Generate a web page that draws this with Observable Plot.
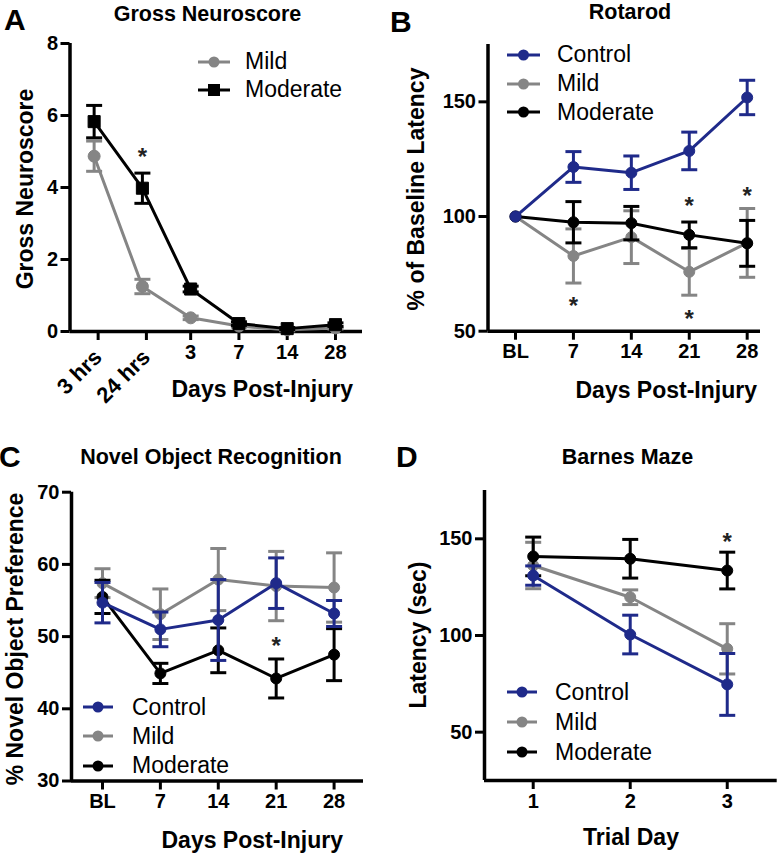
<!DOCTYPE html>
<html>
<head>
<meta charset="utf-8">
<script src="https://cdn.jsdelivr.net/npm/d3@7"></script>
<script src="https://cdn.jsdelivr.net/npm/@observablehq/plot@0.6"></script>
<style>
  body { margin: 0; background: #fff; }
  #root { position: relative; width: 781px; height: 859px; overflow: hidden; background: #fff;
          font-family: "Liberation Sans", Arial, Helvetica, sans-serif; color: #000; }
  .panel { position: absolute; }
  .t { position: absolute; line-height: 1; white-space: nowrap; }
  .b { font-weight: bold; }
</style>
</head>
<body>
<div id="root"></div>
<script>
// ---------- Data ----------
// Panel A: Gross Neuroscore
const aLabels = ["3 hrs", "24 hrs", "3", "7", "14", "28"];
const aMild = [4.87, 1.25, 0.38, 0.15, 0.05, 0.10];
const aMildErr = [0.42, 0.20, 0.05, 0.03, 0.03, 0.03];
const aModerate = [5.83, 3.98, 1.18, 0.22, 0.08, 0.19];
const aModerateErr = [0.45, 0.42, 0.08, 0.05, 0.03, 0.05];
const aStars = [{x: 1, y: 5.0}];

// Panel B: Rotarod
const bLabels = ["BL", "7", "14", "21", "28"];
const bControl = [100, 121.6, 119.1, 128.6, 151.9];
const bControlErr = [0, 6.7, 7.3, 8.2, 7.5];
const bMild = [100, 82.8, 91.0, 75.9, 88.5];
const bMildErr = [0, 11.8, 11.5, 10.2, 15.0];
const bModerate = [100, 97.5, 97.1, 92.0, 88.3];
const bModerateErr = [0, 9.0, 7.3, 5.6, 10.0];
const bStars = [{x: 1, y: 63.3}, {x: 3, y: 107}, {x: 3, y: 57.6}, {x: 4, y: 111.4}];

// Panel C: Novel Object Recognition
const cLabels = ["BL", "7", "14", "21", "28"];
const cControl = [54.7, 51.0, 52.3, 57.4, 53.2];
const cControlErr = [2.8, 2.4, 5.6, 3.5, 1.8];
const cMild = [57.4, 53.1, 57.9, 57.0, 56.8];
const cMildErr = [2.0, 3.5, 4.3, 4.8, 4.8];
const cModerate = [55.5, 44.9, 48.1, 44.2, 47.5];
const cModerateErr = [2.3, 1.4, 3.1, 2.7, 3.6];
const cStars = [{x: 3, y: 49.5}];

// Panel D: Barnes Maze
const dLabels = ["1", "2", "3"];
const dControl = [131.0, 100.5, 74.7];
const dControlErr = [5, 10, 16];
const dMild = [136.2, 119.8, 93.1];
const dMildErr = [12, 3.8, 13];
const dModerate = [140.9, 139.7, 133.6];
const dModerateErr = [10, 10, 9.5];
const dStars = [{x: 2, y: 151.2}];

// ---------- Styling ----------
const BLUE = "#1f2a8a", GRAY = "#858585", BLACK = "#000000";
const FONT = "'Liberation Sans', Arial, Helvetica, sans-serif";
const root = document.getElementById("root");

const capSymbol = {
  draw(ctx, size) { const r = Math.sqrt(size / Math.PI); ctx.moveTo(-r, 0); ctx.lineTo(r, 0); }
};

function seriesMarks(values, errors, color, symbol, r) {
  const rows = values.map((v, i) => ({i, v, lo: v - errors[i], hi: v + errors[i], e: errors[i]}));
  const withErr = rows.filter(d => d.e > 0);
  return [
    Plot.line(rows, {x: "i", y: "v", stroke: color, strokeWidth: 3}),
    Plot.ruleX(withErr, {x: "i", y1: "lo", y2: "hi", stroke: color, strokeWidth: 3}),
    Plot.dot(withErr, {x: "i", y: "hi", symbol: capSymbol, r: 8, stroke: color, strokeWidth: 3, fill: "none"}),
    Plot.dot(withErr, {x: "i", y: "lo", symbol: capSymbol, r: 8, stroke: color, strokeWidth: 3, fill: "none"}),
    Plot.dot(rows, {x: "i", y: "v", symbol, r, fill: color, stroke: color, strokeWidth: 1})
  ];
}

function panel(cfg) {
  const idx = cfg.labels.map((_, i) => i);
  const normalTicks = idx.filter(i => !(cfg.rotated || []).includes(i));
  const marks = [
    Plot.axisY({ticks: cfg.yTicks, tickSize: 9, tickPadding: 3, strokeWidth: 3, label: null, tickFormat: d => String(d)}),
    Plot.axisX({ticks: normalTicks, tickFormat: i => cfg.labels[i], tickSize: 9, tickPadding: 4, strokeWidth: 3, label: null}),
  ];
  if (cfg.rotated) {
    marks.push(Plot.axisX({ticks: cfg.rotated, tickFormat: i => cfg.labels[i], tickRotate: -45, tickSize: 9, tickPadding: 13, dx: 4, fontSize: 22, strokeWidth: 3, label: null}));
  }
  marks.push(Plot.ruleX([cfg.xDomain[0]], {strokeWidth: 3.5}));
  marks.push(Plot.ruleY([cfg.yDomain[0]], {strokeWidth: 3.5}));
  for (const s of cfg.series) marks.push(...seriesMarks(s.values, s.errors, s.color, s.symbol, s.r));
  marks.push(Plot.text(cfg.stars, {x: "x", y: "y", text: () => "*", fontSize: 24, dy: 6, fill: "#222"}));

  const svg = Plot.plot({
    width: cfg.width, height: cfg.height,
    marginLeft: cfg.ml, marginRight: cfg.mr, marginTop: cfg.mt, marginBottom: cfg.mb,
    x: {type: "linear", domain: cfg.xDomain},
    y: {type: "linear", domain: cfg.yDomain},
    style: {fontFamily: FONT, fontSize: "20px", fontWeight: "bold", background: "transparent", overflow: "visible", color: "#000"},
    marks
  });
  const div = document.createElement("div");
  div.className = "panel";
  div.style.left = cfg.left + "px";
  div.style.top = cfg.top + "px";
  div.appendChild(svg);
  root.appendChild(div);
}

function text(str, opts) {
  const el = document.createElement("div");
  el.className = "t" + (opts.bold ? " b" : "");
  el.textContent = str;
  el.style.fontSize = opts.size + "px";
  if (opts.left !== undefined) el.style.left = opts.left + "px";
  if (opts.right !== undefined) el.style.right = opts.right + "px";
  el.style.top = opts.top + "px";
  if (opts.transform) el.style.transform = opts.transform;
  root.appendChild(el);
}

function legend(items, x1, x2, textX) {
  for (const it of items) {
    const w = x2 - x1, h = 18;
    const ns = "http://www.w3.org/2000/svg";
    const s = document.createElementNS(ns, "svg");
    s.setAttribute("width", w); s.setAttribute("height", h);
    s.style.position = "absolute"; s.style.left = x1 + "px"; s.style.top = (it.cy - h / 2) + "px";
    const ln = document.createElementNS(ns, "line");
    ln.setAttribute("x1", 0); ln.setAttribute("x2", w); ln.setAttribute("y1", h / 2); ln.setAttribute("y2", h / 2);
    ln.setAttribute("stroke", it.color); ln.setAttribute("stroke-width", 3);
    s.appendChild(ln);
    let m;
    if (it.square) {
      m = document.createElementNS(ns, "rect");
      m.setAttribute("x", w / 2 - 6); m.setAttribute("y", h / 2 - 6); m.setAttribute("width", 12); m.setAttribute("height", 12);
    } else {
      m = document.createElementNS(ns, "circle");
      m.setAttribute("cx", w / 2); m.setAttribute("cy", h / 2); m.setAttribute("r", 5.5);
    }
    m.setAttribute("fill", it.color);
    s.appendChild(m);
    root.appendChild(s);
    text(it.name, {size: 23, left: textX, top: it.cy - 11.2});
  }
}

// ---------- Panels ----------
panel({
  left: 0, top: 0, width: 390, height: 430, ml: 69.5, mr: 28, mt: 43, mb: 99,
  xDomain: [-0.5, 5.56], yDomain: [0, 8], yTicks: [0, 2, 4, 6, 8],
  labels: aLabels, rotated: [0, 1], stars: aStars,
  series: [
    {values: aMild, errors: aMildErr, color: GRAY, symbol: "circle", r: 6},
    {values: aModerate, errors: aModerateErr, color: BLACK, symbol: "square", r: 6.8}
  ]
});

panel({
  left: 390, top: 0, width: 391, height: 430, ml: 97.5, mr: 21, mt: 44, mb: 99.3,
  xDomain: [-0.475, 4.23], yDomain: [50, 175], yTicks: [50, 100, 150],
  labels: bLabels, stars: bStars,
  series: [
    {values: bMild, errors: bMildErr, color: GRAY, symbol: "circle", r: 5.5},
    {values: bModerate, errors: bModerateErr, color: BLACK, symbol: "circle", r: 5.5},
    {values: bControl, errors: bControlErr, color: BLUE, symbol: "circle", r: 5.5}
  ]
});

panel({
  left: 0, top: 430, width: 390, height: 429, ml: 71, mr: 27, mt: 61.7, mb: 78.5,
  xDomain: [-0.535, 4.508], yDomain: [30, 70], yTicks: [30, 40, 50, 60, 70],
  labels: cLabels, stars: cStars,
  series: [
    {values: cMild, errors: cMildErr, color: GRAY, symbol: "circle", r: 5.5},
    {values: cModerate, errors: cModerateErr, color: BLACK, symbol: "circle", r: 5.5},
    {values: cControl, errors: cControlErr, color: BLUE, symbol: "circle", r: 5.5}
  ]
});

panel({
  left: 390, top: 430, width: 391, height: 429, ml: 94, mr: 4.3, mt: 60, mb: 79,
  xDomain: [-0.502, 2.515], yDomain: [25, 175], yTicks: [50, 100, 150],
  labels: dLabels, stars: dStars,
  series: [
    {values: dMild, errors: dMildErr, color: GRAY, symbol: "circle", r: 5.5},
    {values: dModerate, errors: dModerateErr, color: BLACK, symbol: "circle", r: 5.5},
    {values: dControl, errors: dControlErr, color: BLUE, symbol: "circle", r: 5.5}
  ]
});

// ---------- Panel letters ----------
text("A", {size: 30, bold: true, left: 4, top: 4.6});
text("B", {size: 30, bold: true, left: 390, top: 6.6});
text("C", {size: 30, bold: true, left: -1, top: 441.6});
text("D", {size: 30, bold: true, left: 396, top: 441.6});

// ---------- Titles ----------
text("Gross Neuroscore", {size: 21.5, bold: true, left: 207.5, top: 3.8, transform: "translateX(-50%)"});
text("Rotarod", {size: 21.5, bold: true, left: 630, top: 1.5, transform: "translateX(-50%)"});
text("Novel Object Recognition", {size: 21.5, bold: true, left: 211, top: 446.8, transform: "translateX(-50%)"});
text("Barnes Maze", {size: 21.5, bold: true, left: 627.5, top: 446.8, transform: "translateX(-50%)"});

// ---------- Axis titles ----------
text("Days Post-Injury", {size: 23, bold: true, right: 781 - 353, top: 377.5});
text("Days Post-Injury", {size: 23, bold: true, right: 781 - 757, top: 378.5});
text("Days Post-Injury", {size: 23, bold: true, right: 781 - 343, top: 828.8});
text("Trial Day", {size: 23, bold: true, left: 631, top: 825.5, transform: "translateX(-50%)"});

text("Gross Neuroscore", {size: 23, bold: true, left: 25, top: 189, transform: "translate(-50%,-50%) rotate(-90deg)"});
text("% of Baseline Latency", {size: 23, bold: true, left: 416, top: 188.5, transform: "translate(-50%,-50%) rotate(-90deg)"});
text("% Novel Object Preference", {size: 23, bold: true, left: 15, top: 639, transform: "translate(-50%,-50%) rotate(-90deg)"});
text("Latency (sec)", {size: 23, bold: true, left: 418, top: 635, transform: "translate(-50%,-50%) rotate(-90deg)"});

// ---------- Legends ----------
legend([{name: "Mild", color: GRAY, cy: 61.5}, {name: "Moderate", color: BLACK, cy: 89.5, square: true}], 198, 230, 245);
legend([{name: "Control", color: BLUE, cy: 54.5}, {name: "Mild", color: GRAY, cy: 83.5}, {name: "Moderate", color: BLACK, cy: 112}], 507, 540, 557);
legend([{name: "Control", color: BLUE, cy: 707}, {name: "Mild", color: GRAY, cy: 736}, {name: "Moderate", color: BLACK, cy: 765.5}], 83, 113, 132);
legend([{name: "Control", color: BLUE, cy: 692}, {name: "Mild", color: GRAY, cy: 722}, {name: "Moderate", color: BLACK, cy: 752}], 507, 537, 555);
</script>
</body>
</html>
